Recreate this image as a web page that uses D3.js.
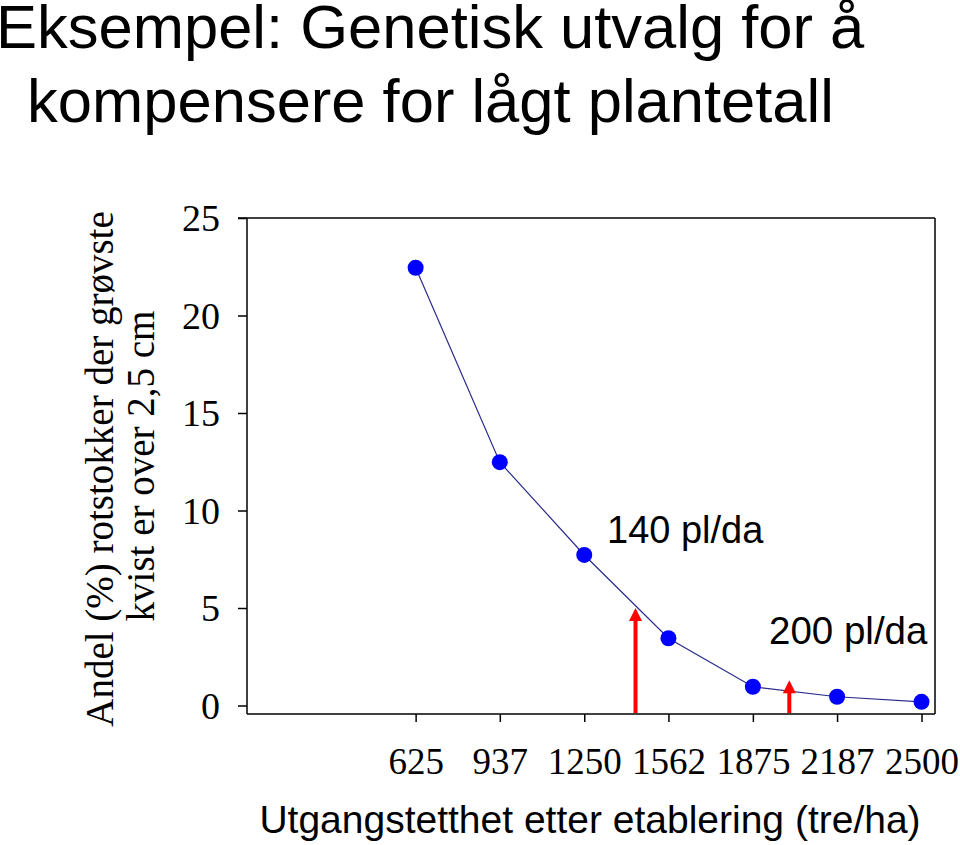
<!DOCTYPE html>
<html>
<head>
<meta charset="utf-8">
<script src="https://cdn.jsdelivr.net/npm/d3@7"></script>
<style>
  html, body { margin: 0; padding: 0; background: #fff; }
  svg { display: block; }
</style>
</head>
<body>
<svg id="chart" width="960" height="845"></svg>
<script>
// ---- data ----
const titleLines = ["Eksempel: Genetisk utvalg for å", " kompensere for lågt plantetall"];
const xValues = [625, 937, 1250, 1562, 1875, 2187, 2500];
const xTickLabels = ["625", "937", "1250", "1562", "1875", "2187", "2500"];
const yValues = [22.45, 12.48, 7.72, 3.45, 0.96, 0.45, 0.19];
const yTicks = [0, 5, 10, 15, 20, 25];
const arrowX = [1440, 2010];
const arrowTop = [5.0, 1.3];
const annotations = ["140 pl/da", "200 pl/da"];
const yTitleLines = ["Andel (%) rotstokker der grøvste", "kvist er over 2,5 cm"];
const xTitle = "Utgangstetthet etter etablering (tre/ha)";

const svg = d3.select("#chart");
const SERIF = "'Liberation Serif', 'Times New Roman', serif";
const SANS = "'Liberation Sans', Arial, Helvetica, sans-serif";

const pLeft = 247, pRight = 935, pTop = 218, pBottom = 714;
const x = d3.scaleLinear().domain([0, 2550]).range([pLeft, pRight]);
const y = d3.scaleLinear().domain([0, 25]).range([705.5, pTop]);

// title
svg.append("g").selectAll("text").data(titleLines).join("text")
  .attr("x", (d, i) => i === 0 ? -4 : 10)
  .attr("y", (d, i) => i === 0 ? 48 : 122)
  .attr("font-family", SANS).attr("font-size", 61.5)
  .attr("fill", "#000")
  .style("white-space", "pre")
  .text(d => d);

// frame
const frame = svg.append("g").attr("stroke", "#000").attr("stroke-width", 1.5).attr("fill", "none");
frame.append("line").attr("x1", pLeft - 9).attr("x2", pRight).attr("y1", pTop).attr("y2", pTop);
frame.append("line").attr("x1", pRight).attr("x2", pRight).attr("y1", pTop).attr("y2", pBottom);
frame.append("line").attr("x1", pLeft).attr("x2", pRight).attr("y1", pBottom).attr("y2", pBottom);
frame.append("line").attr("x1", pLeft).attr("x2", pLeft).attr("y1", pTop).attr("y2", pBottom);

// y axis
const yAxis = svg.append("g").attr("transform", `translate(${pLeft},0)`)
  .call(d3.axisLeft(y).tickValues(yTicks).tickSize(9).tickPadding(18).tickFormat(d3.format("d")));
yAxis.select(".domain").remove();
yAxis.selectAll(".tick line").attr("stroke", "#000").attr("stroke-width", 1.5);
yAxis.selectAll(".tick text").attr("font-family", SERIF).attr("font-size", 38)
  .attr("fill", "#000").attr("dy", "0.33em");

// x axis
const xAxis = svg.append("g").attr("transform", `translate(0,${pBottom})`)
  .call(d3.axisBottom(x).tickValues(xValues).tickSize(8)
    .tickFormat((d, i) => xTickLabels[i]));
xAxis.select(".domain").remove();
xAxis.selectAll(".tick line").attr("stroke", "#000").attr("stroke-width", 1.5);
xAxis.selectAll(".tick text").attr("font-family", SERIF).attr("font-size", 37)
  .attr("fill", "#000").attr("y", 60).attr("dy", 0);

// line
const pts = xValues.map((v, i) => [v, yValues[i]]);
svg.append("path").datum(pts)
  .attr("d", d3.line().x(d => x(d[0])).y(d => y(d[1])))
  .attr("fill", "none").attr("stroke", "#2a2a8c").attr("stroke-width", 1.2);

// points
svg.append("g").selectAll("circle").data(pts).join("circle")
  .attr("cx", d => x(d[0])).attr("cy", d => y(d[1])).attr("r", 8)
  .attr("fill", "#0000ff");

// arrows
const ag = svg.append("g");
arrowX.forEach((ax, i) => {
  const cx = x(ax), tipY = y(arrowTop[i]);
  ag.append("line").attr("x1", cx).attr("x2", cx).attr("y1", pBottom - 1).attr("y2", tipY + 10)
    .attr("stroke", "#ff0000").attr("stroke-width", 4);
  ag.append("path")
    .attr("d", `M${cx - 6.5},${tipY + 13} L${cx},${tipY} L${cx + 6.5},${tipY + 13} Z`)
    .attr("fill", "#ff0000");
});

// annotations
svg.append("text").attr("x", 607).attr("y", 543)
  .attr("font-family", SANS).attr("font-size", 38).attr("fill", "#000").text(annotations[0]);
svg.append("text").attr("x", 769).attr("y", 644)
  .attr("font-family", SANS).attr("font-size", 38.5).attr("fill", "#000").text(annotations[1]);

// y title
svg.append("text").attr("transform", "translate(113,469) rotate(-90)")
  .attr("text-anchor", "middle").attr("font-family", SERIF).attr("font-size", 39)
  .attr("fill", "#000").text(yTitleLines[0]);
svg.append("text").attr("transform", "translate(154,466) rotate(-90)")
  .attr("text-anchor", "middle").attr("font-family", SERIF).attr("font-size", 39)
  .attr("fill", "#000").text(yTitleLines[1]);

// x title
svg.append("text").attr("x", 590).attr("y", 833)
  .attr("text-anchor", "middle").attr("font-family", SANS).attr("font-size", 39)
  .attr("fill", "#000").text(xTitle);
</script>
</body>
</html>
